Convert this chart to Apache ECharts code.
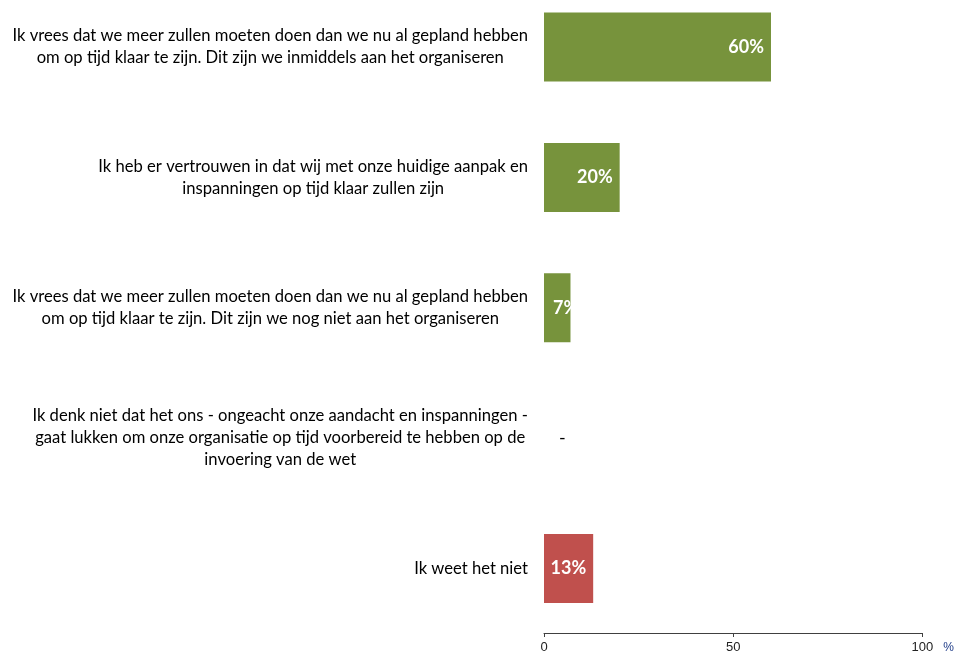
<!DOCTYPE html>
<html>
<head>
<meta charset="utf-8">
<script src="https://cdn.jsdelivr.net/npm/echarts@6/dist/echarts.min.js"></script>
<style>html,body{margin:0;padding:0;background:#fff}#c{width:957px;height:654px}</style>
</head>
<body>
<div id="c"></div>
<script>
const categories = [
  "Ik vrees dat we meer zullen moeten doen dan we nu al gepland hebben\nom op tijd klaar te zijn. Dit zijn we inmiddels aan het organiseren",
  "Ik heb er vertrouwen in dat wij met onze huidige aanpak en\ninspanningen op tijd klaar zullen zijn",
  "Ik vrees dat we meer zullen moeten doen dan we nu al gepland hebben\nom op tijd klaar te zijn. Dit zijn we nog niet aan het organiseren",
  "Ik denk niet dat het ons - ongeacht onze aandacht en inspanningen -\ngaat lukken om onze organisatie op tijd voorbereid te hebben op de\ninvoering van de wet",
  "Ik weet het niet"
];
const values = [60, 20, 7, null, 13];
const barColors = ["#77933C", "#77933C", "#77933C", "#77933C", "#C0504D"];
const xTicks = [0, 50, 100];

const data = values.map((v, i) => {
  if (v === null) {
    return { value: 0, itemStyle: { color: barColors[i] },
      label: { show: true, position: 'insideLeft', distance: 15, color: '#000', fontWeight: 'normal', formatter: '-' } };
  }
  const item = { value: v, itemStyle: { color: barColors[i] } };
  if (v < 10) item.label = { position: 'insideLeft', distance: 9 };
  return item;
});

const chart = echarts.init(document.getElementById('c'));
chart.setOption({
  animation: false,
  grid: { left: 544, right: 33, top: 47, bottom: 85.5, containLabel: false },
  xAxis: {
    type: 'value', min: 0, max: 100, interval: 50, offset: 64.5,
    axisLine: { show: true, lineStyle: { color: '#404040', width: 1 } },
    axisTick: { show: true, length: 4, lineStyle: { color: '#404040' } },
    splitLine: { show: false },
    axisLabel: { color: '#222', fontFamily: 'Liberation Sans', fontSize: 13, margin: 8,
      formatter: v => xTicks.includes(v) ? String(v) : '' },
    name: '%', nameLocation: 'end', nameGap: 21,
    nameTextStyle: { color: '#1F3C88', fontFamily: 'Liberation Sans', fontSize: 12, verticalAlign: 'top', padding: [9, 0, 0, 0] }
  },
  yAxis: {
    type: 'category', data: categories, inverse: true, boundaryGap: false,
    axisLine: { show: false }, axisTick: { show: false },
    axisLabel: {
      margin: 16, align: 'right',
      formatter: s => s.split('\n').map(l => '{c|' + l + '}').join('\n'),
      rich: { c: { align: 'center', fontFamily: 'Lato', fontSize: 16.6, lineHeight: 22, color: '#000' } }
    }
  },
  series: [{
    type: 'bar', data: data, barWidth: 69,
    label: { show: true, position: 'insideRight', distance: 7, color: '#fff',
      fontFamily: 'Lato', fontWeight: 'bold', fontSize: 18,
      formatter: p => p.value + '%' }
  }]
});
</script>
</body>
</html>
